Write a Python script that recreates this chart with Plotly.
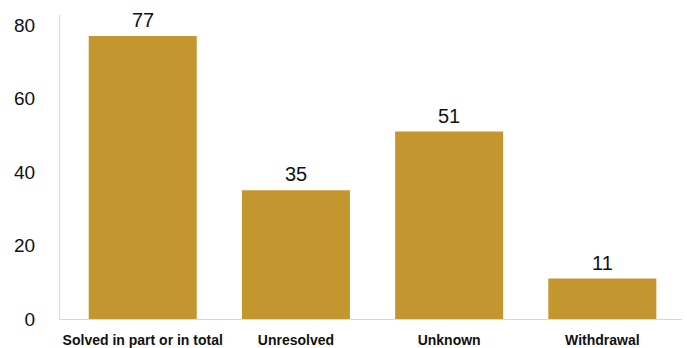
import plotly.graph_objects as go

categories = ["Solved in part or in total", "Unresolved", "Unknown", "Withdrawal"]
counts = [77, 35, 51, 11]
y_ticks = [0, 20, 40, 60, 80]

bar_color = "#C4962F"
font_family = "Liberation Sans, Arial, Helvetica, sans-serif"
positions = list(range(len(categories)))

fig = go.Figure(
    go.Bar(
        x=positions,
        y=counts,
        width=0.705,
        marker=dict(color=bar_color, line=dict(width=0)),
        hoverinfo="x+y",
    )
)

# value labels above each bar
for xi, v in zip(positions, counts):
    fig.add_annotation(
        x=xi,
        y=v,
        text=str(v),
        showarrow=False,
        yanchor="bottom",
        yshift=3,
        font=dict(size=20, color="#111111", family=font_family),
    )

fig.update_layout(
    width=687,
    height=348,
    margin=dict(l=60, r=5, t=15, b=29),
    paper_bgcolor="white",
    plot_bgcolor="white",
    showlegend=False,
    font=dict(family=font_family, color="#111111"),
)

fig.update_xaxes(
    tickmode="array",
    tickvals=positions,
    ticktext=[f"<b>{c}</b>" for c in categories],
    tickfont=dict(size=14, color="#111111"),
    range=[-0.54, 3.52],
    showgrid=False,
    zeroline=False,
    showline=True,
    linecolor="#d9d9d9",
    linewidth=1,
    ticks="",
    ticklabelstandoff=8,
    automargin=False,
)

fig.update_yaxes(
    tickmode="array",
    tickvals=y_ticks,
    ticktext=[str(t) for t in y_ticks],
    tickfont=dict(size=19, color="#111111"),
    range=[0, 82.7],
    showgrid=False,
    zeroline=False,
    showline=True,
    linecolor="#d9d9d9",
    linewidth=1,
    ticks="",
    ticklabelstandoff=20,
    automargin=False,
)

fig.write_html("out.html")
